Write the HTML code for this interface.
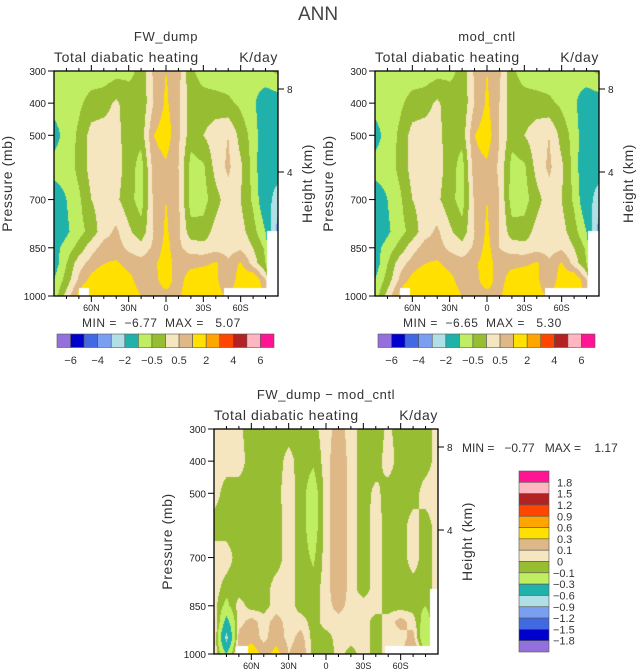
<!DOCTYPE html>
<html><head><meta charset="utf-8">
<style>
body{margin:0;background:#fff;width:637px;height:672px;position:relative;overflow:hidden;font-family:"Liberation Sans",sans-serif;color:#222}
canvas{position:absolute}
svg{position:absolute;left:0;top:0}
</style></head>
<body>
<canvas id="c1" width="224" height="225" style="left:54px;top:71px"></canvas>
<canvas id="c2" width="224" height="225" style="left:375px;top:71px"></canvas>
<canvas id="c3" width="224" height="225" style="left:214px;top:429px"></canvas>
<svg id="ov" width="637" height="672"></svg>
<script>
// ---- data ----
const lats = [90,80,70,60,50,40,30,20,10,0,-10,-20,-30,-40,-50,-60,-70,-80,-90];
const pressures = [300,400,500,600,700,800,850,900,950,1000];
const fwDump = [
[-0.8,-0.8,-0.8,-0.8,-0.8,-0.7,-0.6,-0.4,0.6,1.0,0.7,-0.4,-0.7,-0.8,-0.8,-0.8,-0.8,-0.6,-0.4],
[-0.8,-0.8,-0.6,-0.3,-0.2,0.1,-0.3,-0.4,0.5,1.1,0.6,-0.3,-0.3,-0.3,-0.4,-0.6,-0.9,-1.4,-1.3],
[-1.2,-0.8,-0.4,0.2,0.25,0.2,-0.3,-0.3,1.0,1.3,0.6,-0.3,0.0,0.3,0.5,-0.2,-0.7,-1.5,-1.5],
[-0.8,-0.8,-0.35,0.2,0.3,0.2,-0.2,-0.75,0.7,0.9,0.5,-0.7,-0.6,0.2,0.6,0.1,-0.7,-1.6,-1.5],
[-1.3,-1.0,-0.6,0.0,0.25,0.1,-0.3,-0.75,0.6,1.0,0.6,-0.75,-0.7,-0.2,0.3,0.0,-0.6,-1.5,-2.5],
[-1.4,-1.1,-0.7,-0.3,0.3,0.6,0.1,-0.3,0.5,1.1,0.6,-0.3,-0.3,0.2,0.4,0.2,-0.3,-1.0,-3.5],
[-1.2,-0.8,-0.3,0.3,0.7,0.7,0.4,0.2,0.6,1.2,0.6,0.3,0.2,0.3,0.3,0.4,0.0,-0.6,-3.5],
[-1.3,-0.5,0.3,0.7,1.0,1.1,0.8,0.7,0.9,1.3,0.7,0.8,0.9,1.1,0.6,1.1,0.3,-0.5,-4.0],
[-1.0,-0.3,0.6,1.2,1.6,1.5,1.2,0.7,0.8,1.3,0.7,1.4,1.5,1.1,0.6,1.3,1.6,0.5,-2.0],
[-0.8,0.2,1.2,2.0,1.6,1.5,1.4,1.0,0.8,0.8,0.9,1.5,1.5,1.2,0.9,1.5,2.2,0.5,-1.0]
];
const modCntl = [
[-0.8,-0.8,-0.8,-0.8,-0.8,-0.7,-0.6,-0.4,0.6,1.0,0.6,-0.4,-0.7,-0.8,-0.8,-0.8,-0.8,-0.6,-0.4],
[-0.8,-0.8,-0.6,-0.3,-0.2,0.1,-0.3,-0.4,0.5,1.1,0.5,-0.3,-0.3,-0.3,-0.4,-0.6,-0.9,-1.4,-1.3],
[-1.2,-0.8,-0.4,0.2,0.25,0.2,-0.3,-0.3,1.0,1.3,0.5,-0.3,0.0,0.3,0.5,-0.2,-0.7,-1.5,-1.5],
[-0.8,-0.8,-0.35,0.2,0.3,0.2,-0.2,-0.75,0.8,0.9,0.4,-0.7,-0.6,0.2,0.6,0.1,-0.7,-1.6,-1.5],
[-1.3,-1.0,-0.6,0.0,0.25,0.1,-0.3,-0.75,0.6,1.0,0.5,-0.75,-0.7,-0.2,0.3,0.0,-0.6,-1.5,-2.5],
[-1.4,-1.1,-0.7,-0.3,0.3,0.6,0.1,-0.3,0.5,1.1,0.5,-0.3,-0.3,0.2,0.4,0.2,-0.3,-1.0,-3.5],
[-1.2,-0.8,-0.3,0.3,0.7,0.7,0.4,0.2,0.6,1.2,0.5,0.3,0.2,0.3,0.3,0.4,0.0,-0.6,-3.5],
[-1.3,-0.5,0.3,0.7,1.0,1.1,0.8,0.7,0.9,1.3,0.7,0.8,0.9,1.1,0.6,1.1,0.3,-0.5,-4.0],
[-1.0,-0.3,0.6,1.2,1.6,1.5,1.2,0.7,0.8,1.3,0.7,1.4,1.5,1.1,0.6,1.3,1.6,0.5,-2.0],
[-0.8,0.2,1.2,2.0,1.6,1.5,1.4,1.0,0.8,0.8,0.9,1.5,1.5,1.2,0.9,1.5,2.2,0.5,-1.0]
];
const diffData = [
[0.05,0.05,0.02,-0.05,-0.05,-0.05,-0.05,-0.05,-0.03,0.05,0.15,0.05,-0.05,-0.05,0.02,-0.05,-0.05,-0.05,0.05],
[0.05,0.05,0.05,-0.05,-0.05,-0.05,0.04,-0.05,-0.08,0.05,0.2,0.05,-0.05,-0.05,0.05,-0.05,-0.05,-0.05,0.05],
[0.05,-0.05,-0.05,-0.05,-0.05,-0.03,0.05,-0.05,-0.18,0.05,0.2,0.05,-0.05,0.03,-0.05,-0.05,-0.05,0.05,0.05],
[-0.05,-0.05,-0.05,-0.05,-0.05,-0.05,0.05,-0.05,-0.18,0.05,0.2,0.05,-0.05,0.05,-0.05,-0.05,0.05,-0.05,0.05],
[0.05,0.05,-0.05,-0.05,-0.05,-0.05,0.05,-0.05,-0.12,0.05,0.2,0.05,-0.05,0.05,-0.05,-0.05,0.05,-0.05,0.05],
[0.05,-0.05,-0.05,-0.05,-0.05,0.05,0.05,-0.05,-0.05,0.05,0.2,0.05,-0.05,0.05,-0.05,-0.05,-0.05,-0.05,0.05],
[0.05,-0.15,0.05,-0.05,-0.05,0.05,0.05,-0.05,-0.05,0.05,0.15,0.05,0.05,0.05,-0.05,-0.05,-0.05,-0.1,0.05],
[0.15,-0.4,0.05,0.15,0.05,0.15,0.05,0.05,-0.05,0.05,0.05,0.05,0.05,-0.05,0.05,0.15,0.05,-0.2,0.05],
[0.15,-0.7,0.15,0.2,0.05,0.2,0.05,0.15,-0.05,-0.05,0.05,0.05,0.05,-0.05,0.05,0.05,0.15,-0.3,0.05],
[0.1,-0.3,0.2,0.5,0.2,0.4,0.1,0.2,-0.05,-0.1,0.05,-0.05,0.05,-0.05,0.05,0.05,0.3,-0.1,0.05]
];
const levelsMain = [-6,-5,-4,-3,-2,-1,-0.5,0,0.5,1,2,3,4,5,6];
const levelsDiff = [-1.8,-1.5,-1.2,-0.9,-0.6,-0.3,-0.1,0,0.1,0.3,0.6,0.9,1.2,1.5,1.8];
const mainBarLabels = ["-6","-4","-2","-0.5","0.5","2","4","6"];
const diffBarLabels = ["1.8","1.5","1.2","0.9","0.6","0.3","0.1","0","-0.1","-0.3","-0.6","-0.9","-1.2","-1.5","-1.8"];
const pressureTicks = [300,400,500,700,850,1000];
const latTicks = [60,30,0,-30,-60];
const latTickLabels = ["60N","30N","0","30S","60S"];
const heightTicks = [8,4];
const heightTickY = [18,101];
const colors = ["#9370DB","#0000CD","#4169E1","#7B9FF0","#B0E0E6","#20B2AA","#C0EE62","#97BD32","#F5E6C0","#DEB887","#FFE000","#FFA500","#FF4500","#B22222","#FFB6C1","#FF1493"];

const W=224,H=225;
function xOfLat(lat){return (90-lat)/180*W;}
function yOfP(p){return (p-300)/700*H;}
function hexRgb(h){return [parseInt(h.substr(1,2),16),parseInt(h.substr(3,2),16),parseInt(h.substr(5,2),16)];}
const rgb = colors.map(hexRgb);
function classify(v,levels){let i=0;while(i<levels.length&&v>=levels[i])i++;return i;}
function value(data,x,y){
  const fi=x/W*(lats.length-1);let i=Math.min(Math.floor(fi),lats.length-2);const tx=fi-i;
  const p=300+y/H*700;let j=0;while(j<pressures.length-2&&p>pressures[j+1])j++;
  const ty=Math.max(0,Math.min(1,(p-pressures[j])/(pressures[j+1]-pressures[j])));
  const a=data[j][i]*(1-tx)+data[j][i+1]*tx, b=data[j+1][i]*(1-tx)+data[j+1][i+1]*tx;
  return a*(1-ty)+b*ty;
}
function draw(id,data,levels,masks){
  const c=document.getElementById(id),ctx=c.getContext('2d');const img=ctx.createImageData(W,H);
  for(let y=0;y<H;y++)for(let x=0;x<W;x++){const k=classify(value(data,x+0.5,y+0.5),levels);const o=(y*W+x)*4;img.data[o]=rgb[k][0];img.data[o+1]=rgb[k][1];img.data[o+2]=rgb[k][2];img.data[o+3]=255;}
  ctx.putImageData(img,0,0);ctx.fillStyle="#fff";masks.forEach(m=>ctx.fillRect(m[0],m[1],m[2],m[3]));
}
const masksMain=[[25,217,10,8],[170,217,44,8],[213,160,11,65]];
const masksDiff=[[22,217,12,8],[171,217,53,8],[216,160,8,65]];
draw('c1',fwDump,levelsMain,masksMain);
draw('c2',modCntl,levelsMain,masksMain);
draw('c3',diffData,levelsDiff,masksDiff);

const NS="http://www.w3.org/2000/svg",ov=document.getElementById('ov');
function el(tag,attrs,txt){const e=document.createElementNS(NS,tag);for(const k in attrs)e.setAttribute(k,attrs[k]);if(txt!==undefined)e.textContent=txt;ov.appendChild(e);return e;}
function txt(x,y,s,size,anchor,name,extra){const e=el('text',Object.assign({x:x,y:y,'font-size':size,'text-anchor':anchor||'start',fill:'#222','font-family':'Liberation Sans, sans-serif'},extra||{}),s);


return e;}
function axes(ox,oy,title,pname){
  const f=el('rect',{x:ox,y:oy,width:W,height:H,fill:'none',stroke:'#000','stroke-width':1.3});
  
  
  for(let lat=80;lat>=-80;lat-=10){const x=ox+xOfLat(lat);const major=latTicks.indexOf(lat)>=0;const L=major?6:3;
    const t1=el('line',{x1:x,y1:oy,x2:x,y2:oy-L,stroke:'#000'});
    
    
    const t2=el('line',{x1:x,y1:oy+H,x2:x,y2:oy+H+L,stroke:'#000'});
    
    }
  latTicks.forEach((lat,i)=>{txt(ox+xOfLat(lat),oy+H+15,latTickLabels[i],9,'middle','x-tick-label');});
  pressureTicks.forEach(p=>{const y=oy+yOfP(p);const t=el('line',{x1:ox-6,y1:y,x2:ox,y2:y,stroke:'#000'});
    
    
    txt(ox-8,y+4,String(p),10,'end','y-tick-label');});
  heightTicks.forEach((h,i)=>{const y=oy+heightTickY[i];const t=el('line',{x1:ox+W,y1:y,x2:ox+W+6,y2:y,stroke:'#000'});
    
    
    txt(ox+W+9,y+4,String(h),10,'start','height-tick-label');});
  txt(ox,oy-9,'Total diabatic heating',14,'start','plot-subtitle',{fill:'#333','letter-spacing':'0.6'});
  txt(ox+W,oy-9,'K/day',14,'end','units-label',{fill:'#333','letter-spacing':'0.6'});
  txt(ox+W/2,oy-30,title,13,'middle','plot-title',{fill:'#333','letter-spacing':'0.6'});
  txt(0,0,'Pressure (mb)',14,'middle','y-axis-title',{transform:`translate(${ox-42},${oy+H/2}) rotate(-90)`,fill:'#333','letter-spacing':'0.6'});
  txt(0,0,'Height (km)',14,'middle','height-axis-title',{transform:`translate(${ox+W+34},${oy+H/2}) rotate(-90)`,fill:'#333','letter-spacing':'0.6'});
}
axes(54,71,'FW_dump','fw-dump');
axes(375,71,'mod_cntl','mod-cntl');
axes(214,429,'FW_dump \u2212 mod_cntl','diff');
txt(318,20,'ANN',19,'middle','figure-title',{fill:'#444'});
txt(82,327,'MIN = \u00a0\u22126.77 \u00a0MAX = \u00a0\u00a05.07',12,'start','fw-dump-minmax',{fill:'#333','letter-spacing':'0.5'});
txt(403,327,'MIN = \u00a0\u22126.65 \u00a0MAX = \u00a0\u00a05.30',12,'start','mod-cntl-minmax',{fill:'#333','letter-spacing':'0.5'});
txt(462,452,'MIN = \u00a0\u00a0\u22120.77 \u00a0\u00a0MAX = \u00a0\u00a0\u00a01.17',12,'start','diff-minmax',{fill:'#333'});
function hbar(x0,y0,name){const bw=217/16;
  colors.forEach((c,i)=>{const r=el('rect',{x:x0+i*bw,y:y0,width:bw,height:13.5,fill:c,stroke:'#555','stroke-width':0.6});
    
    });
  mainBarLabels.forEach((l,i)=>{txt(x0+(2*i+1)*bw,y0+30,l.replace('-','\u2212'),11,'middle',name+'-label',{fill:'#333'});});}
hbar(57,334,'fw-dump-colorbar');
hbar(378,334,'mod-cntl-colorbar');
const vbh=181/16;
colors.slice().reverse().forEach((c,i)=>{const r=el('rect',{x:519,y:471+i*vbh,width:30,height:vbh,fill:c,stroke:'#555','stroke-width':0.6});
  
  });
diffBarLabels.forEach((l,i)=>{txt(l[0]==='-'?553:557,471+(i+1)*vbh+4,l.replace('-','\u2212'),11,'start','diff-colorbar-label',{fill:'#333'});});
</script>
</body></html>
